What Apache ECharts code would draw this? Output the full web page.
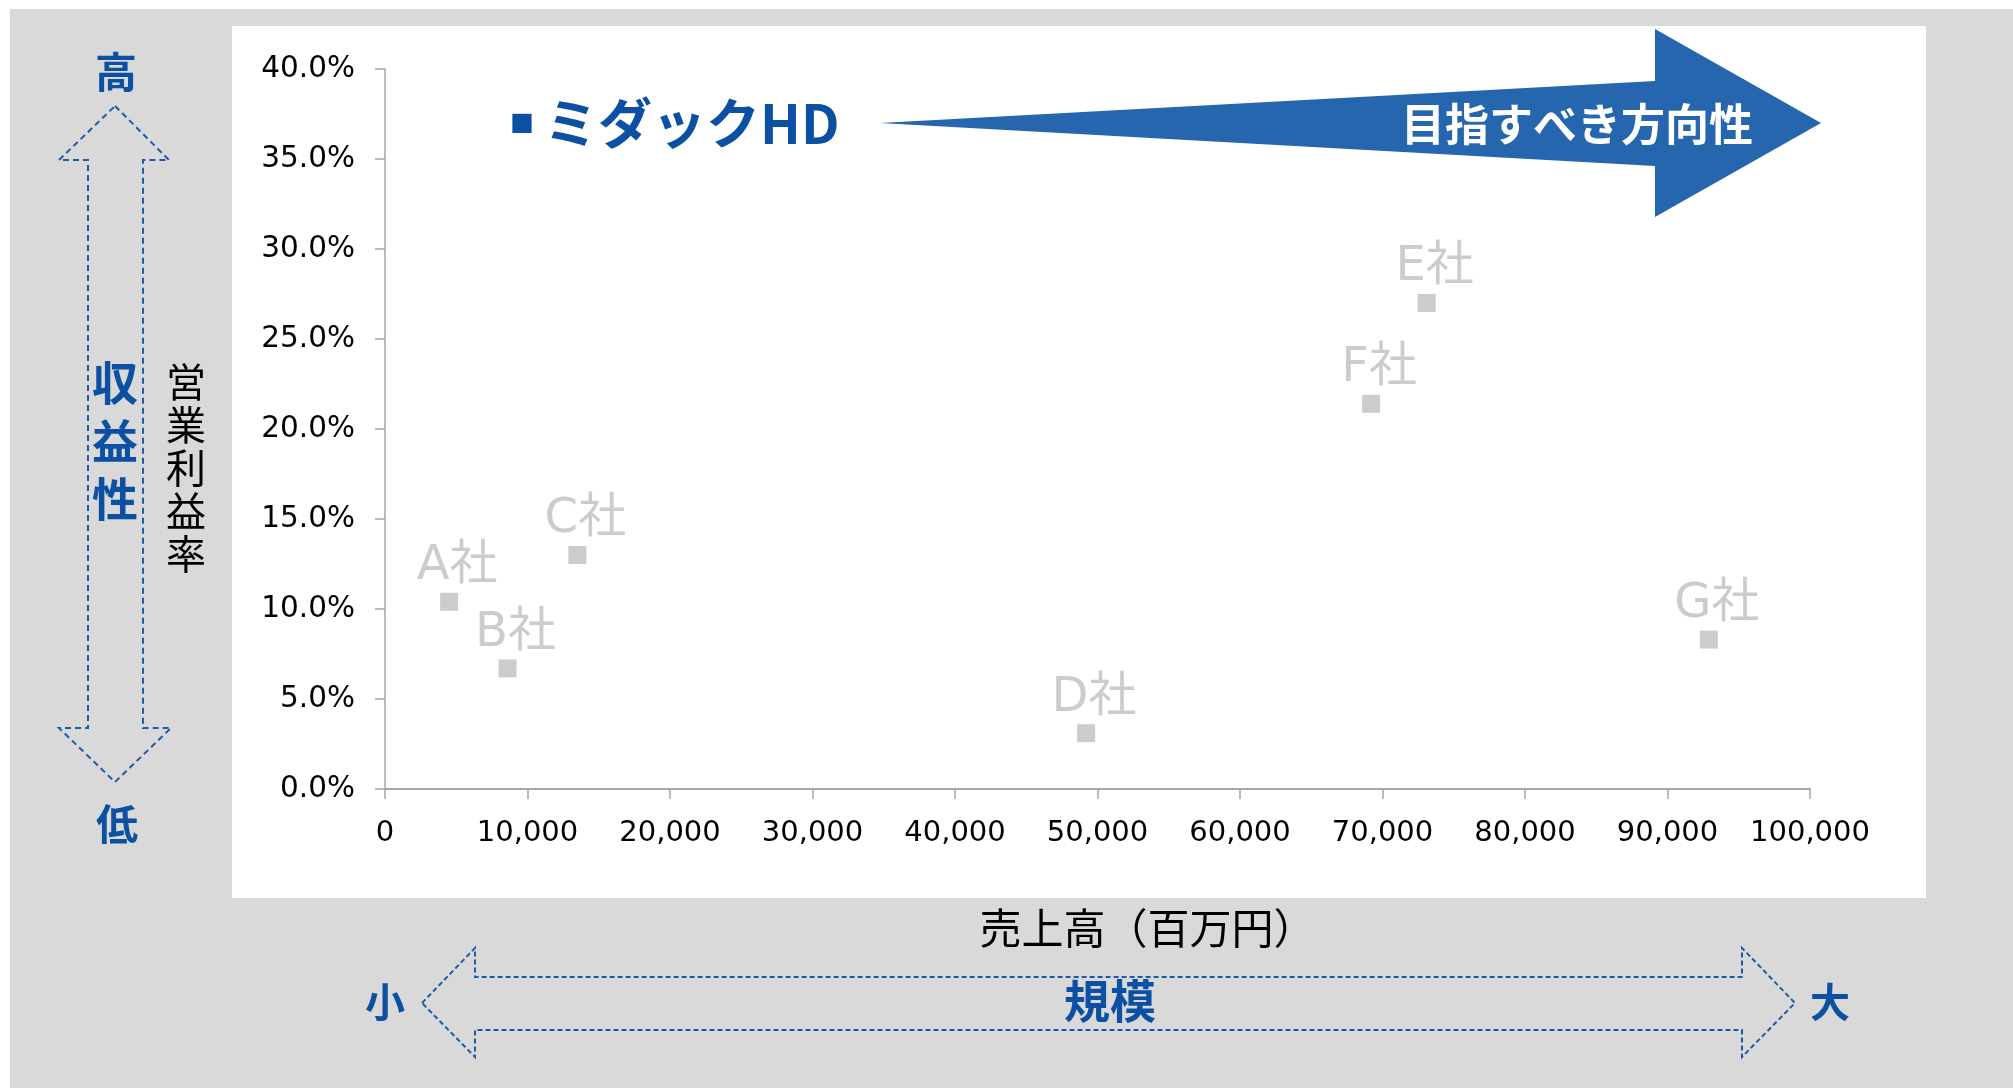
<!DOCTYPE html>
<html>
<head>
<meta charset="utf-8">
<script src="https://cdn.jsdelivr.net/npm/echarts@6/dist/echarts.min.js"></script>
<style>
html,body{margin:0;padding:0;background:#fff;}
#chart{width:2013px;height:1088px;}
</style>
</head>
<body>
<div id="chart"></div>
<script>
// ---- data ----
var companies = ['A社', 'B社', 'C社', 'D社', 'E社', 'F社', 'G社'];
var sales = [4500, 8600, 13500, 49200, 73100, 69200, 92900];          // 売上高（百万円）
var opMargin = [10.4, 6.7, 13.0, 3.1, 27.0, 21.4, 8.3];                // 営業利益率 (%)
var xTicks = [0, 100000, 10000];   // min, max, interval
var yTicks = [0, 40, 5];           // min, max, interval
var xAxisTitle = '売上高（百万円）';
var yAxisTitle = '営業利益率';

var points = companies.map(function (c, i) { return { name: c, value: [sales[i], opMargin[i]] }; });

var BLUE = '#0b50a2';
var CJK = "'Noto Sans CJK JP'";
var LAT = "'DejaVu Sans', 'Noto Sans CJK JP'";

function txt(text, x, y, size, color, bold, lh) {
  return {
    type: 'text', z: 50,
    style: {
      text: text, x: x, y: y,
      font: (bold ? 'bold ' : '') + size + 'px ' + CJK,
      fill: color,
      textAlign: 'center', textVerticalAlign: 'middle',
      align: 'center', verticalAlign: 'middle',
      lineHeight: lh || size
    }
  };
}

var dashed = { stroke: '#1f5aa6', fill: 'none', lineWidth: 2, lineDash: [6, 4] };

var chart = echarts.init(document.getElementById('chart'));
chart.setOption({
  backgroundColor: '#ffffff',
  animation: false,
  grid: { left: 385, right: 203, top: 69, bottom: 299 },
  xAxis: {
    type: 'value', min: xTicks[0], max: xTicks[1], interval: xTicks[2],
    name: xAxisTitle, nameLocation: 'middle', nameGap: 118,
    nameTextStyle: { fontSize: 42, color: '#000', fontFamily: CJK, padding: [0, 0, 0, 100] },
    axisLine: { lineStyle: { color: '#a6a6a6', width: 2 } },
    axisTick: { show: true, length: 10, lineStyle: { color: '#a6a6a6', width: 1.5 } },
    splitLine: { show: false },
    axisLabel: {
      margin: 30, fontSize: 29, color: '#000', fontFamily: LAT,
      formatter: function (v) { return v.toLocaleString('en-US'); }
    }
  },
  yAxis: {
    type: 'value', min: yTicks[0], max: yTicks[1], interval: yTicks[2],
    axisLine: { show: true, lineStyle: { color: '#a6a6a6', width: 1.5 } },
    axisTick: { show: true, length: 10, lineStyle: { color: '#a6a6a6', width: 1.5 } },
    splitLine: { show: false },
    axisLabel: {
      margin: 30, fontSize: 29.5, color: '#000', fontFamily: LAT,
      padding: [10, 0, 0, 0],
      formatter: function (v) { return v.toFixed(1) + '%'; }
    }
  },
  series: [{
    type: 'scatter',
    symbol: 'rect',
    symbolSize: 18,
    itemStyle: { color: '#bfbfbf' },
    data: points,
    label: {
      show: true, position: 'top', distance: 2, offset: [8, 0],
      formatter: '{b}', color: '#bfbfbf', fontSize: 48, fontFamily: LAT
    },
    z: 10
  }],
  graphic: [
    // backgrounds
    { type: 'rect', z: -100, shape: { x: 10, y: 9, width: 2003, height: 1079 }, style: { fill: '#d9d9d9' } },
    { type: 'rect', z: -99, shape: { x: 232, y: 26, width: 1694, height: 872 }, style: { fill: '#ffffff' } },
    // big direction arrow
    { type: 'polygon', z: 20, shape: { points: [[880, 123], [1655, 81], [1655, 29], [1821, 123], [1655, 217], [1655, 166]] }, style: { fill: '#2566ae' } },
    txt('目指すべき方向性', 1577, 124, 44, '#ffffff', true),
    {
      type: 'text', z: 50,
      style: {
        text: '{a|■}{b|ミダックHD}', x: 510, y: 123,
        textAlign: 'left', textVerticalAlign: 'middle', align: 'left', verticalAlign: 'middle',
        rich: {
          a: { fontSize: 24, fontWeight: 'bold', fontFamily: CJK, fill: BLUE, color: BLUE, padding: [0, 10, 0, 0] },
          b: { fontSize: 54, fontWeight: 'bold', fontFamily: CJK, fill: BLUE, color: BLUE }
        }
      }
    },
    // vertical dashed double arrow (収益性)
    { type: 'polygon', z: 20, shape: { points: [[115, 106], [169, 160], [143, 160], [143, 728], [171, 728], [115, 782], [59, 728], [88, 728], [88, 160], [59, 160]] }, style: dashed },
    txt('高', 116, 72, 42, BLUE, true),
    txt('低', 117, 824, 42, BLUE, true),
    txt('収\n益\n性', 115, 441, 46, BLUE, true, 58),
    txt('営\n業\n利\n益\n率', 186, 468, 40, '#000', false, 43),
    // horizontal dashed double arrow (規模)
    { type: 'polygon', z: 20, shape: { points: [[422, 1003], [475, 948], [475, 977], [1742, 977], [1742, 948], [1795, 1003], [1742, 1057], [1742, 1030], [475, 1030], [475, 1057]] }, style: { stroke: '#1f5aa6', fill: 'none', lineWidth: 2, lineDash: [5, 3] } },
    txt('小', 385, 1002, 40, BLUE, true),
    txt('大', 1830, 1002, 40, BLUE, true),
    txt('規模', 1110, 1001, 46, BLUE, true)
  ]
});
</script>
</body>
</html>
